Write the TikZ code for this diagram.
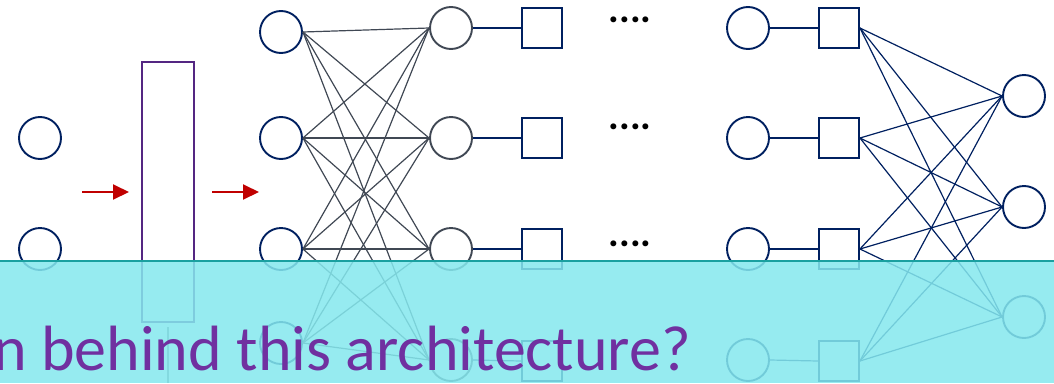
\documentclass[tikz,border=0pt]{standalone}
\usepackage{fontspec}
\setmainfont{Carlito}
\usetikzlibrary{arrows.meta}

\definecolor{navy}{RGB}{0,32,96}
\definecolor{slate}{RGB}{64,72,84}
\definecolor{violetbox}{RGB}{84,38,130}
\definecolor{arrowred}{RGB}{192,0,0}
\definecolor{bandcyan}{RGB}{133,232,238}
\definecolor{bandedge}{RGB}{26,160,160}
\definecolor{titlepurple}{RGB}{112,48,160}

\tikzset{
  unit/.style={circle, draw=navy, line width=1.9pt, fill=white, minimum size=42pt, inner sep=0pt},
  hidunit/.style={circle, draw=slate, line width=1.9pt, fill=white, minimum size=42pt, inner sep=0pt},
  gate/.style={rectangle, draw=navy, line width=1.9pt, fill=white, minimum size=40pt, inner sep=0pt},
  link/.style={draw=slate, line width=1.2pt},
  navylink/.style={draw=navy, line width=1.2pt},
  redarrow/.style={draw=arrowred, line width=2pt, -{Triangle[length=16pt,width=15pt]}},
  ellipsis/.style={font=\bfseries\fontsize{40}{40}\selectfont, inner sep=0pt, anchor=base},
}

\begin{document}
\begin{tikzpicture}[x=1pt, y=-1pt]
\useasboundingbox (0,0) rectangle (1054,383);
\clip (0,0) rectangle (1054,383);

% input units
\node[unit] (i1) at (40,138) {};
\node[unit] (i2) at (40,249) {};

% embedding bar
\node[rectangle, draw=violetbox, line width=1.9pt, minimum width=52pt, minimum height=260pt, inner sep=0pt] (bar) at (168,192) {};
\draw[slate!70, line width=1.8pt] (168,327) -- (168,383);

% arrows
\coordinate (ar1s) at (82,192);
\coordinate (ar1e) at (129,192);
\coordinate (ar2s) at (212,192);
\coordinate (ar2e) at (259,192);
\draw[redarrow] (ar1s) -- (ar1e);
\draw[redarrow] (ar2s) -- (ar2e);

% first fully connected block
\foreach \k/\y in {1/32, 2/138, 3/249, 4/343}
  \node[unit] (a\k) at (281,\y) {};
\foreach \k/\y in {1/28, 2/138, 3/249, 4/360}
  \node[hidunit] (b\k) at (451,\y) {};
\foreach \i in {1,...,4}
  \foreach \j in {1,...,4}
    \draw[link] (a\i.east) -- (b\j.west);
\foreach \k/\y in {1/28, 2/138, 3/249, 4/361}
  \node[gate] (s\k) at (542,\y) {};
\foreach \k in {1,...,4}
  \draw[navylink] (b\k.east) -- (s\k.west);

% continuation dots
\node[ellipsis] (d1) at (630,22) {....};
\node[ellipsis] (d2) at (630,129) {....};
\node[ellipsis] (d3) at (630,246) {....};

% last block
\foreach \k/\y in {1/28, 2/138, 3/249, 4/360}
  \node[unit] (c\k) at (748,\y) {};
\foreach \k/\y in {1/28, 2/138, 3/249, 4/361}
  \node[gate] (q\k) at (839,\y) {};
\foreach \k in {1,...,4}
  \draw[navylink] (c\k.east) -- (q\k.west);
\foreach \k/\y in {1/96, 2/207, 3/317}
  \node[unit] (o\k) at (1024,\y) {};
\foreach \i in {1,...,4}
  \foreach \j in {1,...,3}
    \draw[navylink] (q\i.east) -- (o\j.west);

% caption band
\fill[bandcyan, fill opacity=0.86] (0,261) rectangle (1054,383);
\draw[bandedge, line width=2.2pt] (0,261) -- (1054,261);
\node[text=titlepurple, font=\fontsize{64}{64}\selectfont, anchor=base west, inner sep=0pt] (title) at (-7,370) {n behind this architecture?};
\end{tikzpicture}
\end{document}
